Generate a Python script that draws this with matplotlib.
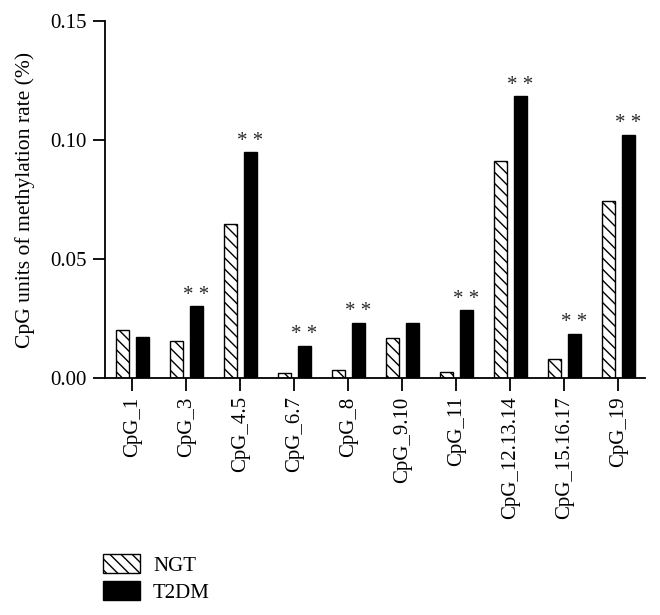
import matplotlib
matplotlib.use("Agg")
import matplotlib.pyplot as plt
import numpy as np

categories = ["CpG_1", "CpG_3", "CpG_4.5", "CpG_6.7", "CpG_8", "CpG_9.10",
              "CpG_11", "CpG_12.13.14", "CpG_15.16.17", "CpG_19"]
ngt = [0.0203, 0.0156, 0.0647, 0.0021, 0.0035, 0.0170, 0.0025, 0.0914, 0.0081, 0.0744]
t2dm = [0.0175, 0.0303, 0.0948, 0.0137, 0.0233, 0.0231, 0.0286, 0.1184, 0.0187, 0.1023]
signif = [False, True, True, True, True, False, True, True, True, True]
yticks = [0.00, 0.05, 0.10, 0.15]
ylabel = "CpG units of methylation rate (%)"

plt.rcParams['font.family'] = ['Liberation Serif', 'DejaVu Serif']
plt.rcParams['hatch.linewidth'] = 1.0

fig = plt.figure(figsize=(6.6, 6.15), dpi=100)
ax = fig.add_axes([0.159, 0.385, 0.818, 0.581])

x = np.arange(len(categories))
w = 0.25
off = 0.185
ax.bar(x - off, ngt, width=w, color='white', edgecolor='black', hatch='\\\\\\',
       linewidth=1.0, label='NGT')
ax.bar(x + off, t2dm, width=w, color='black', edgecolor='black',
       linewidth=1.0, label='T2DM')

for xi, v, s in zip(x, t2dm, signif):
    if s:
        ax.annotate("* *", xy=(xi + off, v), xytext=(0, 1), textcoords='offset points',
                    ha='center', va='bottom', fontsize=15, color='#2a2a2a')

ax.set_xlim(-0.51, 9.49)
ax.set_ylim(0, 0.15)
ax.set_yticks(yticks)
ax.set_yticklabels([f"{t:.2f}" for t in yticks], fontsize=15)
ax.set_xticks(x)
ax.set_xticklabels(categories, rotation=90, fontsize=15)
ax.set_ylabel(ylabel, fontsize=15.6, labelpad=11)

for sp in ['top', 'right']:
    ax.spines[sp].set_visible(False)
for sp in ['left', 'bottom']:
    ax.spines[sp].set_linewidth(1.3)
ax.tick_params(axis='both', direction='out', length=9, width=1.3, pad=4)

leg = fig.legend(loc='lower left', bbox_to_anchor=(0.137, 0.0), frameon=False,
                 fontsize=15, handlelength=1.78, handleheight=1.0,
                 handletextpad=0.62, labelspacing=0.25, borderaxespad=0.2)

fig.savefig("out.png", dpi=100)
